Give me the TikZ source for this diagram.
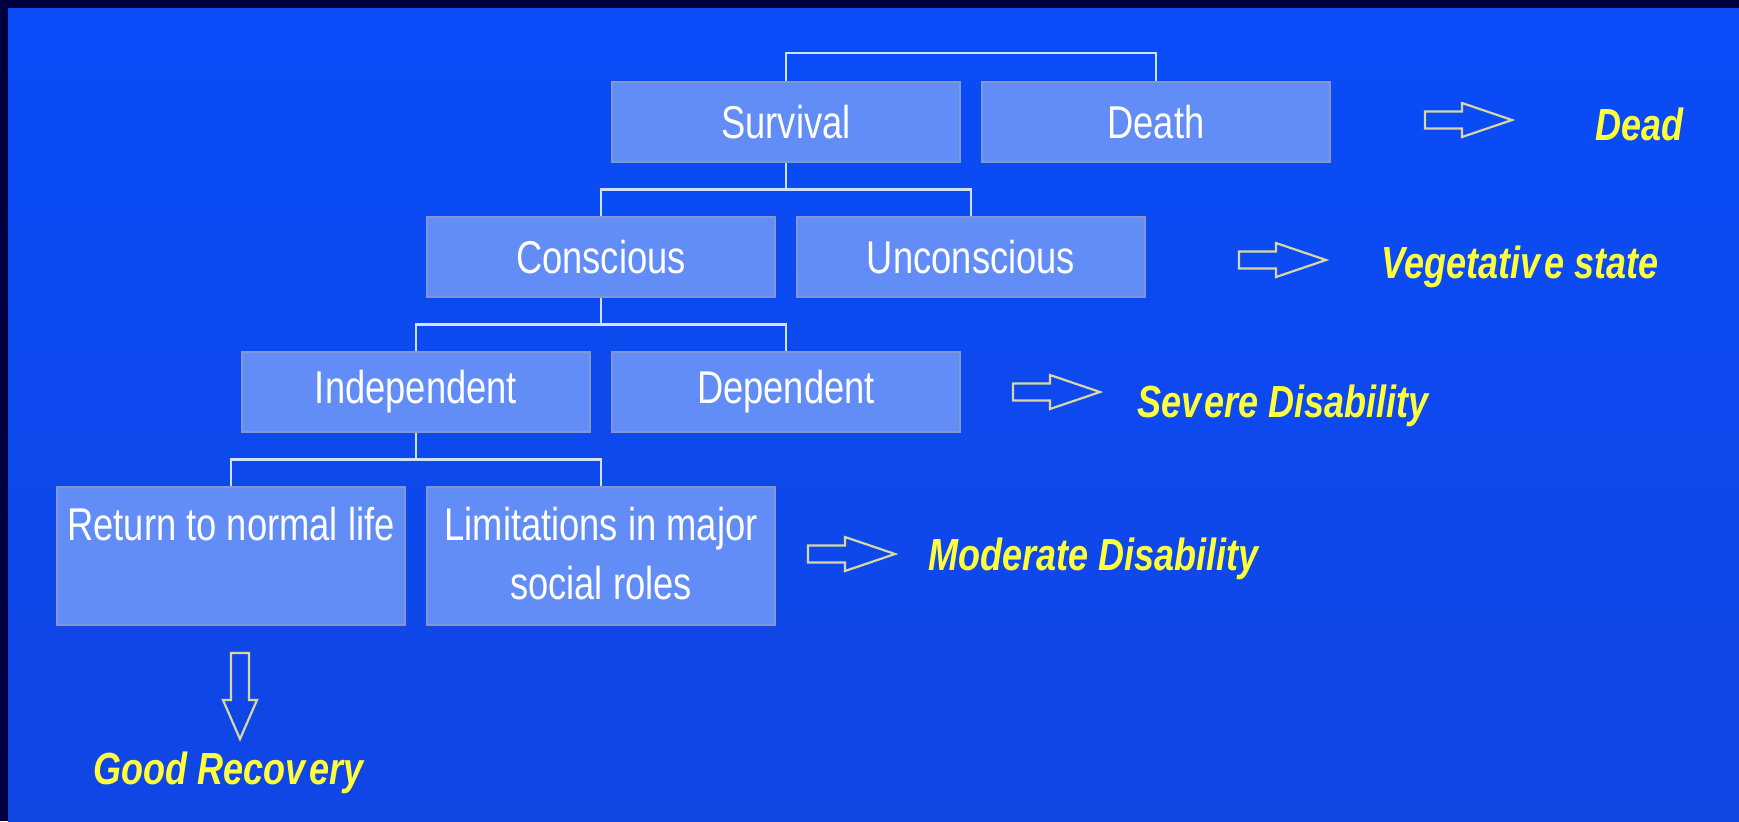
\documentclass[tikz,border=0pt]{standalone}
\usepackage{fontspec}
\setmainfont{Liberation Sans}
\newfontfamily\boxfont[FakeStretch=0.79]{Liberation Sans}
\newfontfamily\labfont[FakeStretch=0.8]{Liberation Sans}
\definecolor{navyedge}{RGB}{0,0,64}
\definecolor{bgtop}{RGB}{10,76,248}
\definecolor{bgbot}{RGB}{16,70,228}
\definecolor{boxfill}{RGB}{98,140,246}
\definecolor{boxedge}{RGB}{130,150,210}
\definecolor{connline}{RGB}{205,225,250}
\definecolor{arrowedge}{RGB}{215,215,165}
\definecolor{labyellow}{RGB}{255,255,60}
\tikzset{
  box/.style={draw=boxedge, line width=0.75pt, fill=boxfill, text=white,
    inner sep=0pt, minimum width=174pt, minimum height=40pt,
    font=\boxfont\fontsize{23}{29.5}\selectfont},
  conn/.style={draw=connline, line width=1.2pt},
  lab/.style={text=labyellow, inner sep=0pt, anchor=base west,
    font=\labfont\bfseries\itshape\fontsize{22.5}{27}\selectfont},
  arrowline/.style={draw=arrowedge, line width=1.1pt, line join=miter},
  rarr/.pic={\draw[arrowline] (0,-8.5) -- (37,-8.5) -- (37,-17) -- (87,0) -- (37,17) -- (37,8.5) -- (0,8.5) -- cycle;},
  darr/.pic={\draw[arrowline] (-9,0) -- (-9,47) -- (-17,47) -- (0,86) -- (17,47) -- (9,47) -- (9,0) -- cycle;}
}
\begin{document}
\begin{tikzpicture}[x=0.5pt,y=-0.5pt]
\useasboundingbox (0,0) rectangle (1739,821);
\fill[navyedge] (0,0) rectangle (1739,821);
\shade[top color=bgtop,bottom color=bgbot] (8,8) rectangle (1739,821);

\node[box] (surv) at (786,122) {Survival};
\node[box] (death) at (1156,122) {Death};
\node[box] (cons) at (601,257) {Conscious};
\node[box] (uncons) at (971,257) {Unconscious};
\node[box] (indep) at (416,392) {Independent};
\node[box] (dep) at (786,392) {Dependent};
\node[box] (ret) at (231,556) {\parbox[c][69pt][t]{174pt}{\centering\vspace*{6pt}\strut Return to normal life}};
\node[box] (lim) at (601,556) {\parbox[c][69pt][t]{174pt}{\centering\vspace*{6pt}\strut Limitations in major\\ social roles}};

\coordinate (j0) at (0,53);
\coordinate (j1) at (0,189.5);
\coordinate (j2) at (0,324.5);
\coordinate (j3) at (0,459.5);
\draw[conn] (surv.north) |- (death.north |- j0) -- (death.north);
\draw[conn] (surv.south) -- (surv.south |- j1);
\draw[conn] (cons.north) |- (uncons.north |- j1) -- (uncons.north);
\draw[conn] (cons.south) -- (cons.south |- j2);
\draw[conn] (indep.north) |- (dep.north |- j2) -- (dep.north);
\draw[conn] (indep.south) -- (indep.south |- j3);
\draw[conn] (ret.north) |- (lim.north |- j3) -- (lim.north);

\pic at (1425,120) {rarr};
\pic at (1239,260) {rarr};
\pic at (1013,392) {rarr};
\pic at (808,554) {rarr};
\pic at (240,653) {darr};

\node[lab] (dead) at (1595,140) {Dead};
\node[lab] (veg) at (1381,278) {Vegetativ\kern0.1em e state};
\node[lab] (sev) at (1137,417) {Sev\kern0.06em ere Disability};
\node[lab] (mod) at (928,570) {Moderate Disability};
\node[lab] (good) at (93,784) {Good Recov\kern0.1em ery};
\end{tikzpicture}
\end{document}
